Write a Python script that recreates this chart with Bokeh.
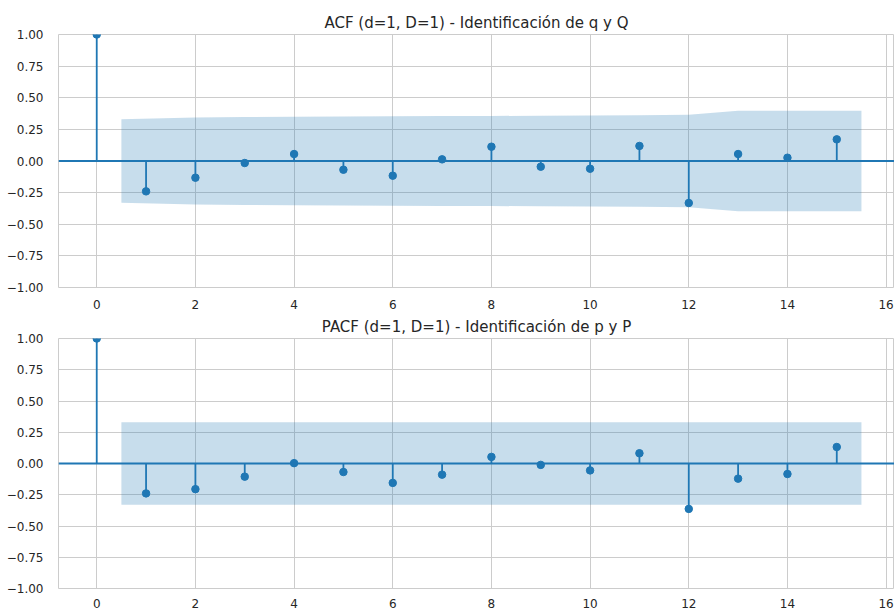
from bokeh.plotting import figure
from bokeh.layouts import column
from bokeh.models import Span, FixedTicker, CustomJSTickFormatter, Range1d
from bokeh.embed import file_html
from bokeh.resources import INLINE

lags = list(range(16))
acf_vals = [1.0, -0.24, -0.132, -0.016, 0.055, -0.069, -0.116, 0.013,
            0.113, -0.045, -0.061, 0.119, -0.332, 0.055, 0.026, 0.171]
acf_conf = [0.33, 0.343, 0.348, 0.35, 0.352, 0.353, 0.355, 0.356,
            0.358, 0.36, 0.362, 0.366, 0.398, 0.398, 0.398]
pacf_vals = [1.0, -0.239, -0.205, -0.105, 0.003, -0.068, -0.155, -0.089,
             0.053, -0.011, -0.055, 0.082, -0.363, -0.121, -0.084, 0.132]
pacf_conf = [0.33] * 15
titles = ["ACF (d=1, D=1) - Identificación de q y Q",
          "PACF (d=1, D=1) - Identificación de p y P"]

C0 = "#1f77b4"
TXT = "#262626"
GRID = "#cccccc"
FONT = "DejaVu Sans"


def make(vals, conf, title, h, top, bottom, standoff):
    p = figure(width=894, height=h, output_backend="svg", toolbar_location=None,
               x_range=Range1d(-0.775, 16.17), y_range=Range1d(-1.0, 1.0),
               min_border_left=58, min_border_right=0,
               min_border_top=top, min_border_bottom=bottom)
    p.title.text = title
    p.title.align = "center"
    p.title.text_font = FONT
    p.title.text_font_size = "15px"
    p.title.text_font_style = "normal"
    p.title.text_color = TXT
    p.title.standoff = 5
    p.outline_line_color = GRID
    p.outline_line_width = 1
    p.background_fill_color = "white"
    p.border_fill_color = "white"
    for ax in (p.xaxis, p.yaxis):
        ax.axis_line_color = None
        ax.major_tick_line_color = None
        ax.minor_tick_line_color = None
        ax.major_label_text_font = FONT
        ax.major_label_text_font_size = "12px"
        ax.major_label_text_color = TXT
    p.xaxis.ticker = FixedTicker(ticks=list(range(0, 17, 2)))
    p.xaxis.major_label_standoff = standoff
    p.yaxis.ticker = FixedTicker(ticks=[-1, -0.75, -0.5, -0.25, 0, 0.25, 0.5, 0.75, 1])
    p.yaxis.formatter = CustomJSTickFormatter(
        code="return (tick < 0 ? '\u2212' : '') + Math.abs(tick).toFixed(2);")
    p.yaxis.major_label_standoff = 9
    p.xgrid.grid_line_color = GRID
    p.ygrid.grid_line_color = GRID
    p.xgrid.grid_line_width = 1
    p.ygrid.grid_line_width = 1

    bx = [float(l) for l in lags[1:]]
    bx[0] -= 0.5
    bx[-1] += 0.5
    p.varea(x=bx, y1=[-c for c in conf], y2=conf, fill_color=C0, fill_alpha=0.25)
    p.add_layout(Span(location=0, dimension="width", line_color=C0, line_width=1.8))
    p.segment(x0=lags, y0=[0] * len(lags), x1=lags, y1=vals, line_color=C0, line_width=1.8)
    p.scatter(x=lags, y=vals, size=7.5, fill_color=C0, line_color=C0)
    return p


p1 = make(acf_vals, acf_conf, titles[0], 313, 34, 26, 6)
p2 = make(pacf_vals, pacf_conf, titles[1], 297, 25, 19, 4)
lay = column(p1, p2, spacing=0)
open("out.html", "w").write(file_html(lay, INLINE))
